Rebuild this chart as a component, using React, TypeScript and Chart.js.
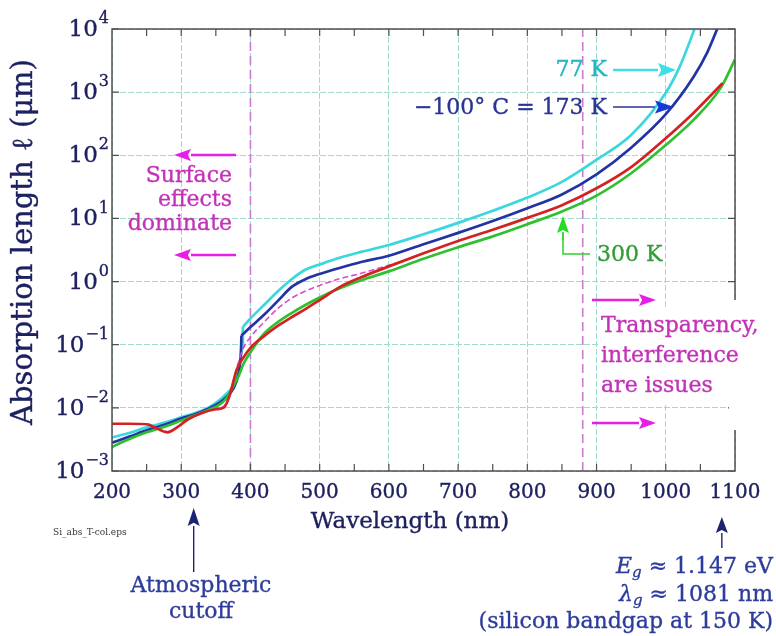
import React, { useEffect, useRef } from "react";
import { Chart, registerables } from "chart.js";

Chart.register(...registerables);

// Absorption length of silicon (µm) versus wavelength (nm)
const wl77K = [200, 225, 250, 280, 300, 320, 340, 355, 365, 375, 383, 388, 389, 400, 420, 440, 460, 480, 500, 530, 560, 600, 650, 700, 750, 800, 850, 900, 950, 1000, 1020, 1045];
const abs77K = [0.0034, 0.004, 0.0049, 0.006, 0.0071, 0.0083, 0.0102, 0.0132, 0.0166, 0.0224, 0.04, 0.095, 0.19, 0.26, 0.43, 0.71, 1.1, 1.55, 1.86, 2.4, 2.95, 3.8, 5.6, 8.5, 13.2, 21.4, 38, 85, 209, 977, 2510, 12600];

const wl173K = [200, 225, 250, 280, 300, 320, 340, 355, 365, 375, 383, 386, 387, 400, 420, 440, 460, 480, 500, 530, 560, 600, 650, 700, 750, 800, 850, 900, 950, 1000, 1040, 1060, 1078];
const abs173K = [0.0028, 0.0035, 0.0044, 0.0056, 0.0068, 0.0079, 0.0098, 0.012, 0.0148, 0.02, 0.035, 0.063, 0.14, 0.19, 0.3, 0.5, 0.83, 1.1, 1.32, 1.66, 2.04, 2.57, 3.9, 5.9, 9.1, 14.5, 24, 50, 132, 447, 1740, 4270, 12600];

const wlRed = [200, 225, 250, 265, 280, 295, 310, 330, 350, 362, 370, 380, 390, 400, 420, 440, 460, 480, 500, 530, 560, 600, 650, 700, 750, 800, 850, 900, 950, 1000, 1040, 1082];
const absRed = [0.0056, 0.0056, 0.0055, 0.0047, 0.0041, 0.005, 0.0066, 0.0083, 0.0095, 0.0102, 0.0158, 0.04, 0.063, 0.089, 0.138, 0.2, 0.275, 0.37, 0.51, 0.83, 1.17, 1.74, 2.8, 4.4, 6.6, 10.2, 16.2, 30, 65, 186, 468, 1380];

const wl300K = [200, 225, 250, 280, 300, 320, 340, 355, 365, 375, 383, 390, 400, 420, 440, 460, 480, 500, 530, 560, 600, 650, 700, 750, 800, 850, 900, 950, 1000, 1040, 1080, 1100];
const abs300K = [0.0024, 0.0032, 0.0041, 0.0052, 0.0063, 0.0076, 0.0093, 0.0112, 0.0141, 0.022, 0.032, 0.05, 0.076, 0.151, 0.23, 0.32, 0.43, 0.56, 0.79, 1.05, 1.45, 2.3, 3.5, 5.2, 8.1, 12.9, 23, 52, 145, 363, 1200, 3300];

const wlDashed = [200, 250, 265, 280, 295, 310, 330, 350, 362, 370, 380, 390, 400, 420, 440, 460, 480, 500, 530, 560, 600, 620];
const absDashed = [0.0056, 0.0056, 0.0048, 0.0042, 0.005, 0.0066, 0.0083, 0.0098, 0.0107, 0.0166, 0.042, 0.089, 0.132, 0.23, 0.38, 0.55, 0.71, 0.87, 1.12, 1.35, 1.82, 2.1];

// Wavelength of the abrupt step in the two cold curves (nm)
const step77K = 388;
const step173K = 386;

// Region boundaries (nm)
const regionLines = [400, 880];
const atmosphericCutoff = 318;
const bandgapWavelength = 1081;

// Axis ticks
const xTickLabels = [200, 300, 400, 500, 600, 700, 800, 900, 1000, 1100];
const xMinorStep = 50;
const yTickExponents = [-3, -2, -1, 0, 1, 2, 3, 4];

const SERIF = '"DejaVu Serif", "Liberation Serif", serif';
const NAVY = "#1d2160";
const MAGENTA_TEXT = "#c232b6";
const MAGENTA_ARROW = "#e61ee6";
const GRID = "rgb(160, 220, 205)";

const pts = (xs: number[], ys: number[]) => xs.map((x, i) => ({ x, y: ys[i] }));

// filled text with a hairline outline for a slightly heavier face
function txt(ctx: CanvasRenderingContext2D, s: string, x: number, y: number) {
  ctx.fillText(s, x, y);
  ctx.save();
  ctx.lineWidth = 0.35;
  ctx.strokeStyle = ctx.fillStyle as string;
  ctx.strokeText(s, x, y);
  ctx.restore();
}

function arrow(
  ctx: CanvasRenderingContext2D,
  x1: number, y1: number, x2: number, y2: number,
  color: string, width: number, headLen: number, headW: number, headColor?: string
) {
  const ang = Math.atan2(y2 - y1, x2 - x1);
  const bx = x2 - headLen * Math.cos(ang);
  const by = y2 - headLen * Math.sin(ang);
  ctx.save();
  ctx.strokeStyle = color;
  ctx.lineWidth = width;
  ctx.beginPath();
  ctx.moveTo(x1, y1);
  ctx.lineTo(bx, by);
  ctx.stroke();
  ctx.fillStyle = headColor || color;
  ctx.beginPath();
  ctx.moveTo(x2, y2);
  ctx.lineTo(bx + headW * Math.sin(ang), by - headW * Math.cos(ang));
  ctx.lineTo(bx + headLen * 0.18 * Math.cos(ang), by + headLen * 0.18 * Math.sin(ang));
  ctx.lineTo(bx - headW * Math.sin(ang), by + headW * Math.cos(ang));
  ctx.closePath();
  ctx.fill();
  ctx.restore();
}

type Part = { t: string; italic?: boolean; sub?: boolean };

function richTextRight(ctx: CanvasRenderingContext2D, parts: Part[], xRight: number, y: number, size: number, color: string) {
  const fontFor = (p: Part) => `${p.italic ? "italic " : ""}${p.sub ? Math.round(size * 0.7) : size}px ${SERIF}`;
  let total = 0;
  const widths = parts.map((p) => {
    ctx.font = fontFor(p);
    const w = ctx.measureText(p.t).width;
    total += w;
    return w;
  });
  let x = xRight - total;
  ctx.fillStyle = color;
  ctx.textAlign = "left";
  ctx.textBaseline = "middle";
  parts.forEach((p, i) => {
    ctx.font = fontFor(p);
    txt(ctx, p.t, x, p.sub ? y + size * 0.3 : y);
    x += widths[i];
  });
}

function lines(ctx: CanvasRenderingContext2D, text: string[], x: number, y0: number, step: number, align: CanvasTextAlign, size: number, color: string) {
  ctx.font = `${size}px ${SERIF}`;
  ctx.fillStyle = color;
  ctx.textAlign = align;
  ctx.textBaseline = "middle";
  text.forEach((t, i) => txt(ctx, t, x, y0 + i * step));
}

const decorations = {
  id: "decorations",
  afterDraw(chart: any) {
    const ctx: CanvasRenderingContext2D = chart.ctx;
    const { left, right, top, bottom } = chart.chartArea;
    const xs = chart.scales.x;
    const ys = chart.scales.y;
    const X = (v: number) => xs.getPixelForValue(v);
    const Y = (v: number) => ys.getPixelForValue(v);

    ctx.save();

    // frame and inward ticks
    ctx.strokeStyle = "#505050";
    ctx.lineWidth = 1.5;
    ctx.strokeRect(left, top, right - left, bottom - top);
    ctx.lineWidth = 1.2;
    ctx.beginPath();
    for (let v = xs.min + xMinorStep; v < xs.max; v += xMinorStep) {
      const px = X(v);
      ctx.moveTo(px, bottom);
      ctx.lineTo(px, bottom - 7);
      ctx.moveTo(px, top);
      ctx.lineTo(px, top + 7);
    }
    yTickExponents.forEach((e) => {
      const py = Y(Math.pow(10, e));
      ctx.moveTo(left, py);
      ctx.lineTo(left + 7, py);
      ctx.moveTo(right, py);
      ctx.lineTo(right - 7, py);
    });
    ctx.stroke();

    // x tick labels
    ctx.font = `20px ${SERIF}`;
    ctx.fillStyle = NAVY;
    ctx.textAlign = "center";
    ctx.textBaseline = "middle";
    xTickLabels.forEach((v) => txt(ctx, String(v), X(v), 493));

    // y tick labels 10^n
    yTickExponents.forEach((e) => {
      const py = Y(Math.pow(10, e));
      const ex = e < 0 ? "\u2212" + Math.abs(e) : String(e);
      ctx.font = `16px ${SERIF}`;
      const ew = ctx.measureText(ex).width;
      ctx.textAlign = "left";
      txt(ctx, ex, 109 - ew, py - 10);
      ctx.font = `23px ${SERIF}`;
      ctx.textAlign = "right";
      txt(ctx, "10", 108 - ew, py + 1);
    });

    // axis titles
    ctx.font = `23px ${SERIF}`;
    ctx.textAlign = "center";
    txt(ctx, "Wavelength (nm)", 410, 522);
    ctx.save();
    ctx.translate(24, 242);
    ctx.rotate(-Math.PI / 2);
    ctx.font = `29px ${SERIF}`;
    txt(ctx, "Absorption length \u2113 (\u03bcm)", 0, 0);
    ctx.restore();

    ctx.font = `9px ${SERIF}`;
    ctx.fillStyle = "#333";
    ctx.textAlign = "left";
    ctx.fillText("Si_abs_T-col.eps", 53, 533);

    // left region note
    arrow(ctx, 236, 155, 174, 155, MAGENTA_ARROW, 2.5, 17, 6);
    arrow(ctx, 236, 255, 174, 255, MAGENTA_ARROW, 2.5, 17, 6);
    lines(ctx, ["Surface", "effects", "dominate"], 232, 176, 24, "right", 22, MAGENTA_TEXT);

    // right region note on a white box
    ctx.fillStyle = "#ffffff";
    ctx.fillRect(599, 308, 776 - 599, 96);
    ctx.fillRect(729, 300, 12, 130);
    arrow(ctx, 592, 300, 656, 300, MAGENTA_ARROW, 2.5, 17, 6);
    arrow(ctx, 592, 423, 656, 423, MAGENTA_ARROW, 2.5, 17, 6);
    lines(ctx, ["Transparency,", "interference", "are issues"], 601, 326, 30, "left", 22, MAGENTA_TEXT);

    // curve labels
    ctx.font = `22px ${SERIF}`;
    ctx.textAlign = "right";
    ctx.fillStyle = "#22b4c4";
    txt(ctx, "77 K", 607, 70);
    arrow(ctx, 613, 70, 676, 70, "#3fe0e4", 2.5, 18, 7);
    ctx.fillStyle = "#2a3592";
    txt(ctx, "\u2212100\u00b0 C = 173 K", 607, 108);
    arrow(ctx, 613, 107, 674, 107, "#2a3592", 1.3, 19, 6.5, "#1737d6");
    ctx.fillStyle = "#2f9e35";
    ctx.textAlign = "left";
    txt(ctx, "300 K", 597, 255);
    ctx.strokeStyle = "#2fd02f";
    ctx.lineWidth = 1.5;
    ctx.beginPath();
    ctx.moveTo(590, 254);
    ctx.lineTo(563, 254);
    ctx.lineTo(563, 232);
    ctx.stroke();
    arrow(ctx, 563, 240, 563, 216, "#22dd22", 1.5, 17, 6);

    // atmospheric cutoff
    const ax = X(atmosphericCutoff);
    arrow(ctx, ax, 572, ax, 508, "#1b2470", 1.4, 18, 6);
    lines(ctx, ["Atmospheric", "cutoff"], 201, 586, 26, "center", 22, "#2d3c9c");

    // bandgap
    const bx = X(bandgapWavelength);
    arrow(ctx, bx, 548, bx, 517, "#1b2470", 1.4, 16, 6);
    richTextRight(ctx, [{ t: "E", italic: true }, { t: "g", italic: true, sub: true }, { t: " \u2248 1.147 eV" }], 773, 567, 22, "#2d3c9c");
    richTextRight(ctx, [{ t: "\u03bb", italic: true }, { t: "g", italic: true, sub: true }, { t: " \u2248 1081 nm" }], 773, 595, 22, "#2d3c9c");
    richTextRight(ctx, [{ t: "(silicon bandgap at 150 K)" }], 773, 622, 22, "#2d3c9c");

    ctx.restore();
  },
};

export default function App() {
  const ref = useRef<HTMLCanvasElement | null>(null);

  useEffect(() => {
    if (!ref.current) return;
    const curve = (label: string, data: { x: number; y: number }[], color: string, order: number, extra: any = {}) => ({
      label,
      data,
      borderColor: color,
      borderWidth: 2.7,
      pointRadius: 0,
      cubicInterpolationMode: "monotone",
      fill: false,
      order,
      ...extra,
    });
    // a curve with an abrupt step: smooth on each side, a straight rise across the step
    const steppedCurve = (label: string, xsArr: number[], ysArr: number[], stepAt: number, color: string, order: number) => {
      const all = pts(xsArr, ysArr);
      const k = xsArr.indexOf(stepAt);
      return [
        curve(label, all.slice(0, k + 1), color, order),
        curve(label, all.slice(k, k + 2), color, order, { cubicInterpolationMode: "default", tension: 0 }),
        curve(label, all.slice(k + 1), color, order),
      ];
    };
    const chart = new Chart(ref.current, {
      type: "line",
      data: {
        datasets: [
          curve("Red", pts(wlRed, absRed), "#d42222", 1),
          curve("Dashed", pts(wlDashed, absDashed), "#d64fc8", 2, { borderWidth: 1.6, borderDash: [6, 3] }),
          curve("300 K", pts(wl300K, abs300K), "#2fc02f", 3),
          ...steppedCurve("173 K", wl173K, abs173K, step173K, "#2233a2", 4),
          ...steppedCurve("77 K", wl77K, abs77K, step77K, "#3ad8de", 5),
          ...regionLines.map((w) => ({
            label: "boundary",
            data: [{ x: w, y: 1e-3 }, { x: w, y: 1e4 }],
            borderColor: "#c77ccd",
            borderWidth: 1.6,
            borderDash: [9, 5],
            pointRadius: 0,
            order: 6,
          })),
        ],
      },
      options: {
        responsive: false,
        animation: false,
        layout: { padding: { left: 112, right: 41, top: 29, bottom: 165 } },
        plugins: { legend: { display: false }, tooltip: { enabled: false }, title: { display: false } },
        scales: {
          x: {
            type: "linear",
            min: 200,
            max: 1100,
            ticks: { display: false, stepSize: 100 },
            grid: { color: GRID, drawTicks: false, lineWidth: 1 },
            border: { display: false, dash: [6, 2] },
          },
          y: {
            type: "logarithmic",
            min: 1e-3,
            max: 1e4,
            afterBuildTicks: (s: any) => {
              s.ticks = yTickExponents.map((e) => ({ value: Math.pow(10, e) }));
            },
            ticks: { display: false },
            grid: { color: GRID, drawTicks: false, lineWidth: 1 },
            border: { display: false, dash: [6, 2] },
          },
        },
      } as any,
      plugins: [decorations],
    });
    return () => chart.destroy();
  }, []);

  return (
    <div style={{ position: "fixed", left: 0, top: 0, width: 776, height: 636, background: "#fff" }}>
      <canvas ref={ref} width={776} height={636} style={{ display: "block" }} />
    </div>
  );
}
